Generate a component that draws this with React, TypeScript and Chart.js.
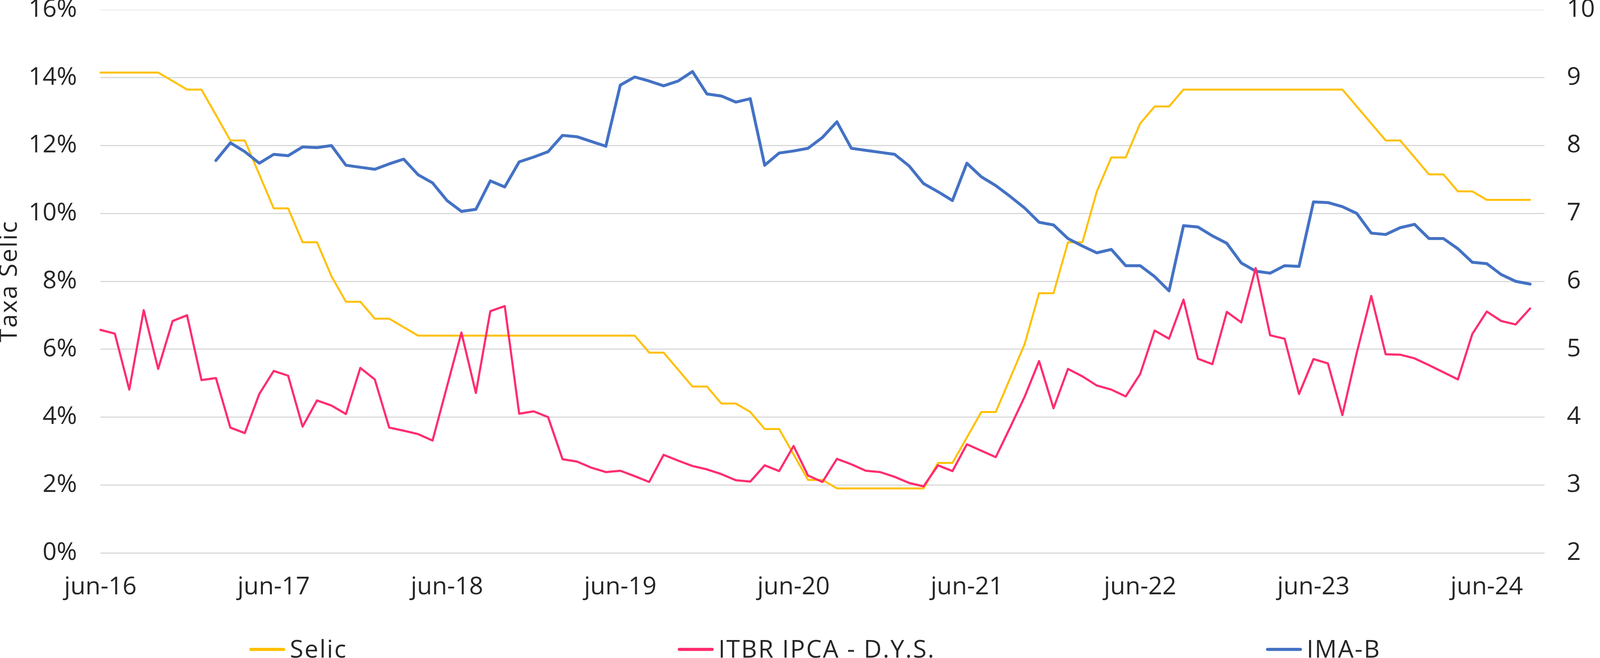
import React, { useEffect, useRef } from 'react'
import Chart from 'chart.js/auto'

// monthly categories, jun-16 .. out-24 (the axis runs one month past the data)
const months = [
  'jun-16', 'jul-16', 'ago-16', 'set-16', 'out-16', 'nov-16', 'dez-16',
  'jan-17', 'fev-17', 'mar-17', 'abr-17', 'mai-17', 'jun-17', 'jul-17', 'ago-17', 'set-17', 'out-17', 'nov-17', 'dez-17',
  'jan-18', 'fev-18', 'mar-18', 'abr-18', 'mai-18', 'jun-18', 'jul-18', 'ago-18', 'set-18', 'out-18', 'nov-18', 'dez-18',
  'jan-19', 'fev-19', 'mar-19', 'abr-19', 'mai-19', 'jun-19', 'jul-19', 'ago-19', 'set-19', 'out-19', 'nov-19', 'dez-19',
  'jan-20', 'fev-20', 'mar-20', 'abr-20', 'mai-20', 'jun-20', 'jul-20', 'ago-20', 'set-20', 'out-20', 'nov-20', 'dez-20',
  'jan-21', 'fev-21', 'mar-21', 'abr-21', 'mai-21', 'jun-21', 'jul-21', 'ago-21', 'set-21', 'out-21', 'nov-21', 'dez-21',
  'jan-22', 'fev-22', 'mar-22', 'abr-22', 'mai-22', 'jun-22', 'jul-22', 'ago-22', 'set-22', 'out-22', 'nov-22', 'dez-22',
  'jan-23', 'fev-23', 'mar-23', 'abr-23', 'mai-23', 'jun-23', 'jul-23', 'ago-23', 'set-23', 'out-23', 'nov-23', 'dez-23',
  'jan-24', 'fev-24', 'mar-24', 'abr-24', 'mai-24', 'jun-24', 'jul-24', 'ago-24', 'set-24', 'out-24',
]

// Taxa Selic (%)
const selic = [
  14.15, 14.15, 14.15, 14.15, 14.15, 13.9, 13.65,
  13.65, 12.9, 12.15, 12.15, 11.15, 10.15, 10.15, 9.15, 9.15, 8.15, 7.4, 7.4,
  6.9, 6.9, 6.65, 6.4, 6.4, 6.4, 6.4, 6.4, 6.4, 6.4, 6.4, 6.4,
  6.4, 6.4, 6.4, 6.4, 6.4, 6.4, 6.4, 5.9, 5.9, 5.4, 4.9, 4.9,
  4.4, 4.4, 4.15, 3.65, 3.65, 2.9, 2.15, 2.15, 1.9, 1.9, 1.9, 1.9,
  1.9, 1.9, 1.9, 2.65, 2.65, 3.4, 4.15, 4.15, 5.15, 6.15, 7.65, 7.65,
  9.15, 9.15, 10.65, 11.65, 11.65, 12.65, 13.15, 13.15, 13.65, 13.65, 13.65, 13.65,
  13.65, 13.65, 13.65, 13.65, 13.65, 13.65, 13.65, 13.65, 13.15, 12.65, 12.15, 12.15,
  11.65, 11.15, 11.15, 10.65, 10.65, 10.4, 10.4, 10.4, 10.4,
]

// ITBR IPCA - D.Y.S. (%)
const itbr = [
  6.57, 6.46, 4.81, 7.15, 5.42, 6.83, 7.0,
  5.09, 5.15, 3.69, 3.53, 4.68, 5.36, 5.22, 3.72, 4.49, 4.34, 4.09, 5.45,
  5.11, 3.69, 3.6, 3.5, 3.31, 4.9, 6.49, 4.71, 7.12, 7.27, 4.1, 4.17,
  4.0, 2.76, 2.69, 2.51, 2.38, 2.42, 2.26, 2.09, 2.89, 2.72, 2.56, 2.46,
  2.32, 2.14, 2.1, 2.58, 2.41, 3.15, 2.28, 2.09, 2.77, 2.61, 2.42, 2.38,
  2.24, 2.06, 1.96, 2.58, 2.41, 3.2, 3.01, 2.82, 3.7, 4.6, 5.65, 4.26,
  5.42, 5.2, 4.93, 4.81, 4.61, 5.27, 6.55, 6.31, 7.46, 5.72, 5.56, 7.1,
  6.79, 8.39, 6.41, 6.31, 4.68, 5.71, 5.58, 4.06, 5.9, 7.57, 5.85, 5.84,
  5.73, 5.53, 5.32, 5.11, 6.45, 7.11, 6.83, 6.73, 7.2,
]

// IMA-B duration (anos), starts in fev-17
const imab = [
  null, null, null, null, null, null, null,
  null, 7.78, 8.04, 7.91, 7.74, 7.87, 7.85, 7.98, 7.97, 8.0, 7.71, 7.68,
  7.65, 7.73, 7.8, 7.57, 7.45, 7.19, 7.03, 7.06, 7.48, 7.39, 7.76, 7.83,
  7.91, 8.15, 8.13, 8.06, 7.99, 8.89, 9.01, 8.95, 8.88, 8.95, 9.09, 8.76,
  8.73, 8.64, 8.69, 7.71, 7.89, 7.92, 7.96, 8.12, 8.35, 7.96, 7.93, 7.9,
  7.87, 7.7, 7.44, 7.32, 7.19, 7.74, 7.54, 7.41, 7.25, 7.08, 6.87, 6.83,
  6.63, 6.52, 6.42, 6.47, 6.23, 6.23, 6.07, 5.86, 6.82, 6.8, 6.67, 6.56,
  6.27, 6.15, 6.12, 6.23, 6.22, 7.17, 7.16, 7.1, 7.0, 6.71, 6.69, 6.79,
  6.84, 6.63, 6.63, 6.48, 6.28, 6.26, 6.1, 6.0, 5.96,
]

const FONT = '"Open Sans", sans-serif'
const INK = '#262626'
const SIZE = 63
const NO_TICK = 'rgba(0,0,0,0)'

// both axis titles (reading bottom-to-top) and the spread-out legend under the plot
const overlay = {
  id: 'overlay',
  afterDraw(chart: any) {
    const { ctx, chartArea, width, height } = chart
    const midY = (chartArea.top + chartArea.bottom) / 2
    ctx.save()
    ctx.font = `${SIZE}px ${FONT}`
    ctx.fillStyle = INK
    ctx.textAlign = 'center'
    ctx.textBaseline = 'middle'

    const title = (text: string, x: number, spacing: string) => {
      ctx.save()
      ctx.letterSpacing = spacing
      ctx.translate(x, midY)
      ctx.rotate(-Math.PI / 2)
      ctx.fillText(text, 0, 0)
      ctx.restore()
    }
    title('Taxa Selic', 25, '2.6px')
    title('Duration (anos)', width - 36, '2px')

    // start of each legend entry, as in the original layout
    const starts = [638, 1735, 3241]
    const lineLen = 92
    const y = height - 22
    ctx.letterSpacing = '3px'
    ctx.textAlign = 'left'
    ctx.textBaseline = 'alphabetic'
    ctx.lineWidth = 8
    ctx.lineCap = 'round'
    chart.data.datasets.forEach((ds: any, i: number) => {
      const x = starts[i]
      ctx.strokeStyle = ds.borderColor
      ctx.beginPath()
      ctx.moveTo(x + 4, y)
      ctx.lineTo(x + lineLen - 4, y)
      ctx.stroke()
      ctx.fillText(ds.label, x + lineLen + 12, height - 1)
    })
    ctx.restore()
  },
}

export default function App() {
  const canvasRef = useRef<HTMLCanvasElement | null>(null)
  const chartRef = useRef<Chart | null>(null)

  useEffect(() => {
    document.body.style.margin = '0'
    document.body.style.overflow = 'hidden'
    if (!canvasRef.current) return
    const ctx = canvasRef.current.getContext('2d')
    if (!ctx) return

    chartRef.current = new Chart(ctx, {
      type: 'line',
      data: {
        labels: months,
        datasets: [
          {
            label: 'Selic',
            data: selic,
            yAxisID: 'y',
            borderColor: '#FFC000',
            borderWidth: 5,
            order: 2,
          },
          {
            label: 'ITBR IPCA - D.Y.S.',
            data: itbr,
            yAxisID: 'y',
            borderColor: '#FF2D6F',
            borderWidth: 5.5,
            order: 0,
          },
          {
            label: 'IMA-B',
            data: imab,
            yAxisID: 'y2',
            borderColor: '#4472C4',
            borderWidth: 7.5,
            order: 1,
          },
        ],
      },
      plugins: [overlay],
      options: {
        responsive: false,
        animation: false,
        layout: { padding: { top: 25, left: 0, right: 0, bottom: 0 } },
        elements: {
          point: { radius: 0, hoverRadius: 0 },
          line: { tension: 0, borderJoinStyle: 'round', borderCapStyle: 'round', fill: false },
        },
        plugins: {
          legend: { display: false },
          tooltip: { enabled: false },
        },
        scales: {
          x: {
            grid: { display: false },
            border: { display: false },
            ticks: {
              autoSkip: false,
              maxRotation: 0,
              minRotation: 0,
              padding: 42,
              color: INK,
              font: { family: FONT, size: SIZE, lineHeight: 1.2 },
              callback: (_v: any, i: number) => (i % 12 === 0 ? months[i] : ''),
            },
            afterFit: (s: any) => { s.height = 269 },
          },
          y: {
            position: 'left',
            min: 0,
            max: 16,
            border: { display: false },
            grid: {
              color: (c: any) => (c.tick && c.tick.value === 16 ? '#f0f0f0' : '#d9d9d9'),
              lineWidth: 3,
              drawTicks: true,
              tickLength: 60,
              tickColor: NO_TICK,
            },
            ticks: {
              stepSize: 2,
              padding: 0,
              color: INK,
              font: { family: FONT, size: SIZE, lineHeight: 0.75 },
              callback: (v: any) => v + '%',
            },
            afterFit: (s: any) => { s.width = 257 },
          },
          y2: {
            position: 'right',
            min: 2,
            max: 10,
            border: { display: false },
            grid: { display: false, drawTicks: true, tickLength: 57, tickColor: NO_TICK },
            ticks: {
              stepSize: 1,
              padding: 0,
              color: INK,
              font: { family: FONT, size: SIZE, lineHeight: 0.75 },
            },
            afterFit: (s: any) => { s.width = 215 },
          },
        },
      },
    } as any)

    return () => {
      if (chartRef.current) {
        chartRef.current.destroy()
        chartRef.current = null
      }
    }
  }, [])

  return (
    <div style={{ width: 4169, height: 1684, background: '#fff' }}>
      <canvas ref={canvasRef} width={4169} height={1684} style={{ display: 'block' }} />
    </div>
  )
}
